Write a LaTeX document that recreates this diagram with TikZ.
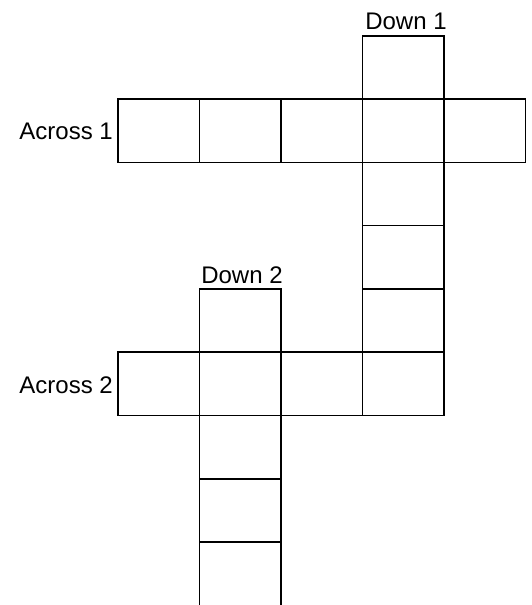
\documentclass[tikz,border=0pt]{standalone}
\usepackage{fontspec}
\setmainfont{Liberation Sans}
\begin{document}
\begin{tikzpicture}[x=1pt,y=-1pt,
    cell/.style={draw, line width=1.6pt},
    clue/.style={inner sep=0pt, font=\fontsize{24}{28}\selectfont}]
  \useasboundingbox (0,0) rectangle (532,605);
  % ancho y alto de cada casilla
  \def\cw{81.5}
  \def\ch{63.3}

  % Fila horizontal 1
  \foreach \i in {0,...,4}
    \draw[cell] ({118+\i*\cw},{99}) rectangle ++(\cw,\ch);
  % Columna vertical 1
  \foreach \j in {-1,...,4}
    \draw[cell] ({118+3*\cw},{99+\j*\ch}) rectangle ++(\cw,\ch);
  % Fila horizontal 2
  \foreach \i in {0,...,3}
    \draw[cell] ({118+\i*\cw},{99+4*\ch}) rectangle ++(\cw,\ch);
  % Columna vertical 2
  \foreach \j in {3,...,7}
    \draw[cell] ({118+\cw},{99+\j*\ch}) rectangle ++(\cw,\ch);

  % Etiquetas de las pistas
  \node[clue, anchor=east] (across1) at (113,131) {Across 1};
  \node[clue, anchor=east] (across2) at (113,385) {Across 2};
  \node[clue, anchor=south] (down1) at (406,30) {Down 1};
  \node[clue, anchor=south] (down2) at (242,284) {Down 2};
\end{tikzpicture}
\end{document}
